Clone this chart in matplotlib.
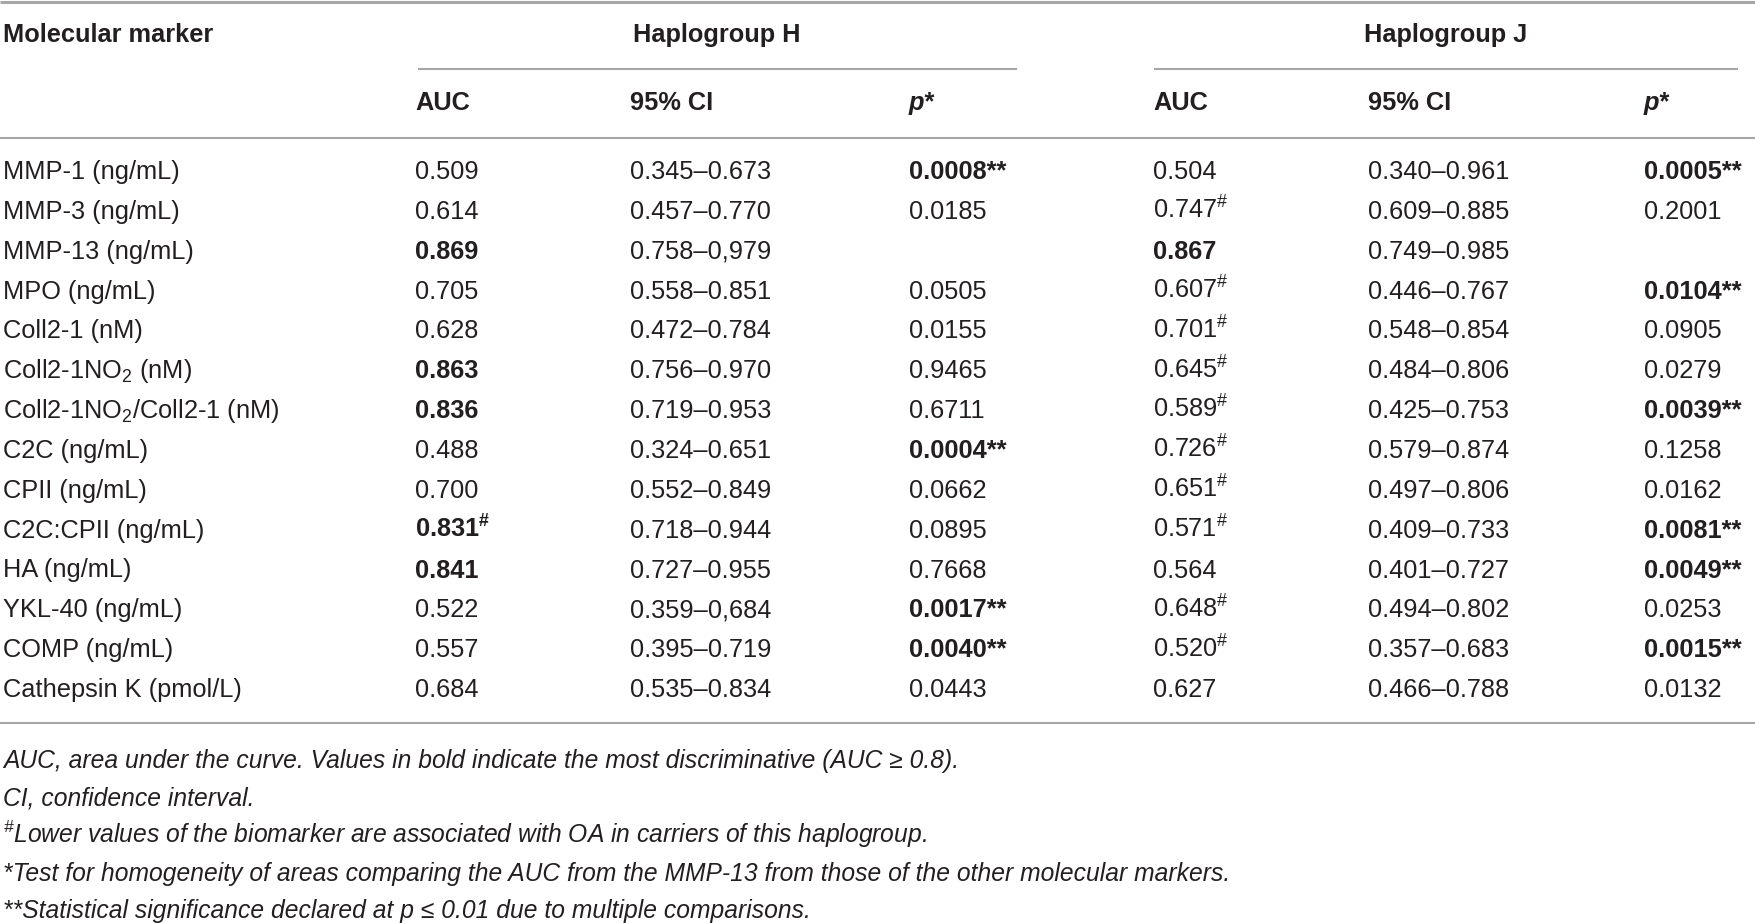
import matplotlib
matplotlib.use("Agg")
import matplotlib.pyplot as plt

plt.rcParams['font.family'] = ['Liberation Sans', 'DejaVu Sans']
plt.rcParams['mathtext.fontset'] = 'custom'
plt.rcParams['mathtext.default'] = 'regular'

# table content
markers = ["MMP-1 (ng/mL)", "MMP-3 (ng/mL)", "MMP-13 (ng/mL)", "MPO (ng/mL)",
           "Coll2-1 (nM)", r"Coll2-1NO$_2$ (nM)", r"Coll2-1NO$_2$/Coll2-1 (nM)",
           "C2C (ng/mL)", "CPII (ng/mL)", "C2C:CPII (ng/mL)", "HA (ng/mL)",
           "YKL-40 (ng/mL)", "COMP (ng/mL)", "Cathepsin K (pmol/L)"]

auc_h = ["0.509", "0.614", "0.869", "0.705", "0.628", "0.863", "0.836",
         "0.488", "0.700", "0.831", "0.841", "0.522", "0.557", "0.684"]
auc_h_hash = [False, False, False, False, False, False, False,
              False, False, True, False, False, False, False]
ci_h = ["0.345–0.673", "0.457–0.770", "0.758–0,979", "0.558–0.851", "0.472–0.784",
        "0.756–0.970", "0.719–0.953", "0.324–0.651", "0.552–0.849", "0.718–0.944",
        "0.727–0.955", "0.359–0,684", "0.395–0.719", "0.535–0.834"]
p_h = ["0.0008**", "0.0185", "", "0.0505", "0.0155", "0.9465", "0.6711",
       "0.0004**", "0.0662", "0.0895", "0.7668", "0.0017**", "0.0040**", "0.0443"]

auc_j = ["0.504", "0.747", "0.867", "0.607", "0.701", "0.645", "0.589",
         "0.726", "0.651", "0.571", "0.564", "0.648", "0.520", "0.627"]
auc_j_hash = [False, True, False, True, True, True, True,
              True, True, True, False, True, True, False]
ci_j = ["0.340–0.961", "0.609–0.885", "0.749–0.985", "0.446–0.767", "0.548–0.854",
        "0.484–0.806", "0.425–0.753", "0.579–0.874", "0.497–0.806", "0.409–0.733",
        "0.401–0.727", "0.494–0.802", "0.357–0.683", "0.466–0.788"]
p_j = ["0.0005**", "0.2001", "", "0.0104**", "0.0905", "0.0279", "0.0039**",
       "0.1258", "0.0162", "0.0081**", "0.0049**", "0.0253", "0.0015**", "0.0132"]

footnotes = [
    "AUC, area under the curve. Values in bold indicate the most discriminative (AUC ≥ 0.8).",
    "CI, confidence interval.",
    r"$^{\#}$Lower values of the biomarker are associated with OA in carriers of this haplogroup.",
    "*Test for homogeneity of areas comparing the AUC from the MMP-13 from those of the other molecular markers.",
    "**Statistical significance declared at p ≤ 0.01 due to multiple comparisons.",
]

W, H = 1755, 923
fig = plt.figure(figsize=(W / 100, H / 100), dpi=100)
ax = fig.add_axes([0, 0, 1, 1])
ax.set_xlim(0, W)
ax.set_ylim(H, 0)
ax.axis('off')

fs = 18.3
fs_note = 17.7
ink = '#231f20'
rule = '#a6a6a6'

col_x = [3, 415, 630, 909, 1153, 1368, 1644]

# rules
ax.plot([0, W], [1.5, 1.5], color=rule, lw=2.2, solid_capstyle='butt')
ax.plot([418, 1017], [69, 69], color=rule, lw=1.5, solid_capstyle='butt')
ax.plot([1154, 1738], [69, 69], color=rule, lw=1.5, solid_capstyle='butt')
ax.plot([0, W], [138, 138], color=rule, lw=1.5, solid_capstyle='butt')
ax.plot([0, W], [723, 723], color=rule, lw=1.5, solid_capstyle='butt')

# header
ax.text(col_x[0], 42, "Molecular marker", fontsize=fs, fontweight='bold', color=ink, va='baseline')
ax.text(717, 42, "Haplogroup H", fontsize=fs, fontweight='bold', color=ink, va='baseline', ha='center')
ax.text(1446, 42, "Haplogroup J", fontsize=fs, fontweight='bold', color=ink, va='baseline', ha='center')
for k, lab in enumerate(["AUC", "95% CI", "p*", "AUC", "95% CI", "p*"]):
    ax.text(col_x[k + 1], 110, lab, fontsize=fs, fontweight='bold', color=ink, va='baseline',
            fontstyle='italic' if lab == "p*" else 'normal')


def auc_cell(val, hashed):
    s = val + (r"$^{\#}$" if hashed else "")
    return s, ('bold' if float(val) >= 0.8 else 'normal')


row0, step = 179, 39.85
for i in range(len(markers)):
    y = row0 + i * step
    ax.text(col_x[0], y, markers[i], fontsize=fs, color=ink, va='baseline')
    s, w = auc_cell(auc_h[i], auc_h_hash[i])
    ax.text(col_x[1], y, s, fontsize=fs, color=ink, va='baseline', fontweight=w)
    ax.text(col_x[2], y, ci_h[i], fontsize=fs, color=ink, va='baseline')
    ax.text(col_x[3], y, p_h[i], fontsize=fs, color=ink, va='baseline',
            fontweight='bold' if p_h[i].endswith('**') else 'normal')
    s, w = auc_cell(auc_j[i], auc_j_hash[i])
    ax.text(col_x[4], y, s, fontsize=fs, color=ink, va='baseline', fontweight=w)
    ax.text(col_x[5], y, ci_j[i], fontsize=fs, color=ink, va='baseline')
    ax.text(col_x[6], y, p_j[i], fontsize=fs, color=ink, va='baseline',
            fontweight='bold' if p_j[i].endswith('**') else 'normal')

# footnotes
for i, note in enumerate(footnotes):
    ax.text(3, 768 + i * 37.5, note, fontsize=fs_note, fontstyle='italic', color=ink, va='baseline')

fig.savefig("out.png", dpi=100)
